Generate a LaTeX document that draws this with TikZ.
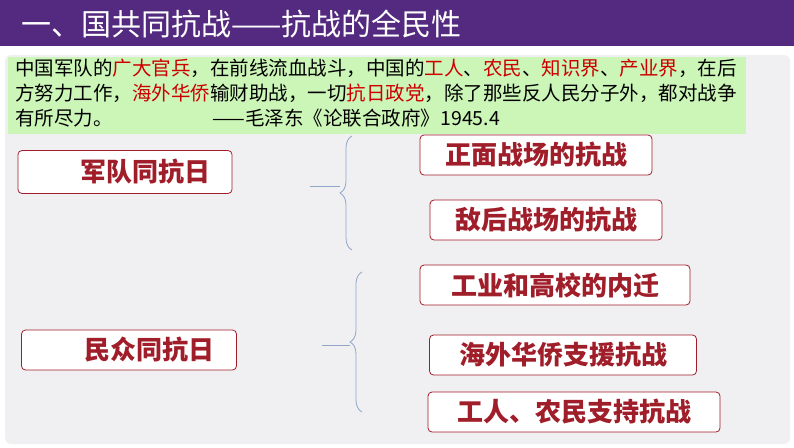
\documentclass[tikz,border=0pt]{standalone}
\usepackage{fontspec}
\setmainfont{Noto Sans CJK SC}
\newfontfamily\cjk{Noto Sans CJK SC}
\usetikzlibrary{shadows,decorations.pathreplacing}
\definecolor{banner}{HTML}{532A7F}
\definecolor{panel}{HTML}{F0F0F2}
\definecolor{quote}{HTML}{CCF5B8}
\definecolor{boxred}{HTML}{A01E2A}
\definecolor{brace}{HTML}{8FA6C8}
\newcommand{\hl}[1]{\textcolor{red!80!black}{#1}}
\tikzset{
  topic/.style = {draw=boxred, rounded corners=4pt, fill=white, line width=0.8pt,
    font=\cjk\bfseries\fontsize{26}{26}\selectfont, text=boxred, inner sep=0pt},
  bracket/.style = {draw=brace, line width=0.8pt, decorate, decoration={brace, amplitude=12pt}}
}
\begin{document}
\begin{tikzpicture}[x=1pt, y=-1pt]
  \useasboundingbox (0,0) rectangle (794,447);
  \fill[white] (0,0) rectangle (794,447);
  % banner and panel
  \fill[banner] (0,0) rectangle (794,46);
  \fill[panel, rounded corners=6pt] (5,55) rectangle (790,444);
  \node[anchor=west, text=white, font=\fontsize{30}{30}\selectfont] (title) at (18,24) {一、国共同抗战——抗战的全民性};
  % quotation
  \fill[quote] (8,57) rectangle (746,134);
  \node[anchor=north west, inner sep=0pt, align=left,
    font=\fontsize{19.5}{25}\selectfont] (quotetext) at (15,59)
    {中国军队的\hl{广大官兵}，在前线流血战斗，中国的\hl{工人}、\hl{农民}、\hl{知识界}、\hl{产业界}，在后\\
     方努力工作，\hl{海外华侨}输财助战，一切\hl{抗日政党}，除了那些反人民分子外，都对战争\\
     有所尽力。\hspace{100pt}——毛泽东《论联合政府》1945.4};
  % topics
  \node[topic, minimum width=214pt, minimum height=43pt] (army) at (125,172) {\hspace{40pt}军队同抗日};
  \node[topic, minimum width=232pt, minimum height=40pt] (front) at (536,155) {正面战场的抗战};
  \node[topic, minimum width=232pt, minimum height=40pt] (rear) at (546,220) {敌后战场的抗战};
  \node[topic, minimum width=215pt, minimum height=40pt] (people) at (129,350) {\hspace{40pt}民众同抗日};
  \node[topic, minimum width=270pt, minimum height=40pt] (industry) at (555,285) {工业和高校的内迁};
  \node[topic, minimum width=267pt, minimum height=40pt] (overseas) at (563,355) {海外华侨支援抗战};
  \node[topic, minimum width=292pt, minimum height=40pt] (workers) at (574,412) {工人、农民支持抗战};
  % braces
  \draw[bracket] (352,250) -- (352,136);
  \draw[brace, line width=0.8pt] (310,186) -- (340,186);
  \draw[bracket] (362,412) -- (362,272);
  \draw[brace, line width=0.8pt] (322,345) -- (350,345);
\end{tikzpicture}
\end{document}
